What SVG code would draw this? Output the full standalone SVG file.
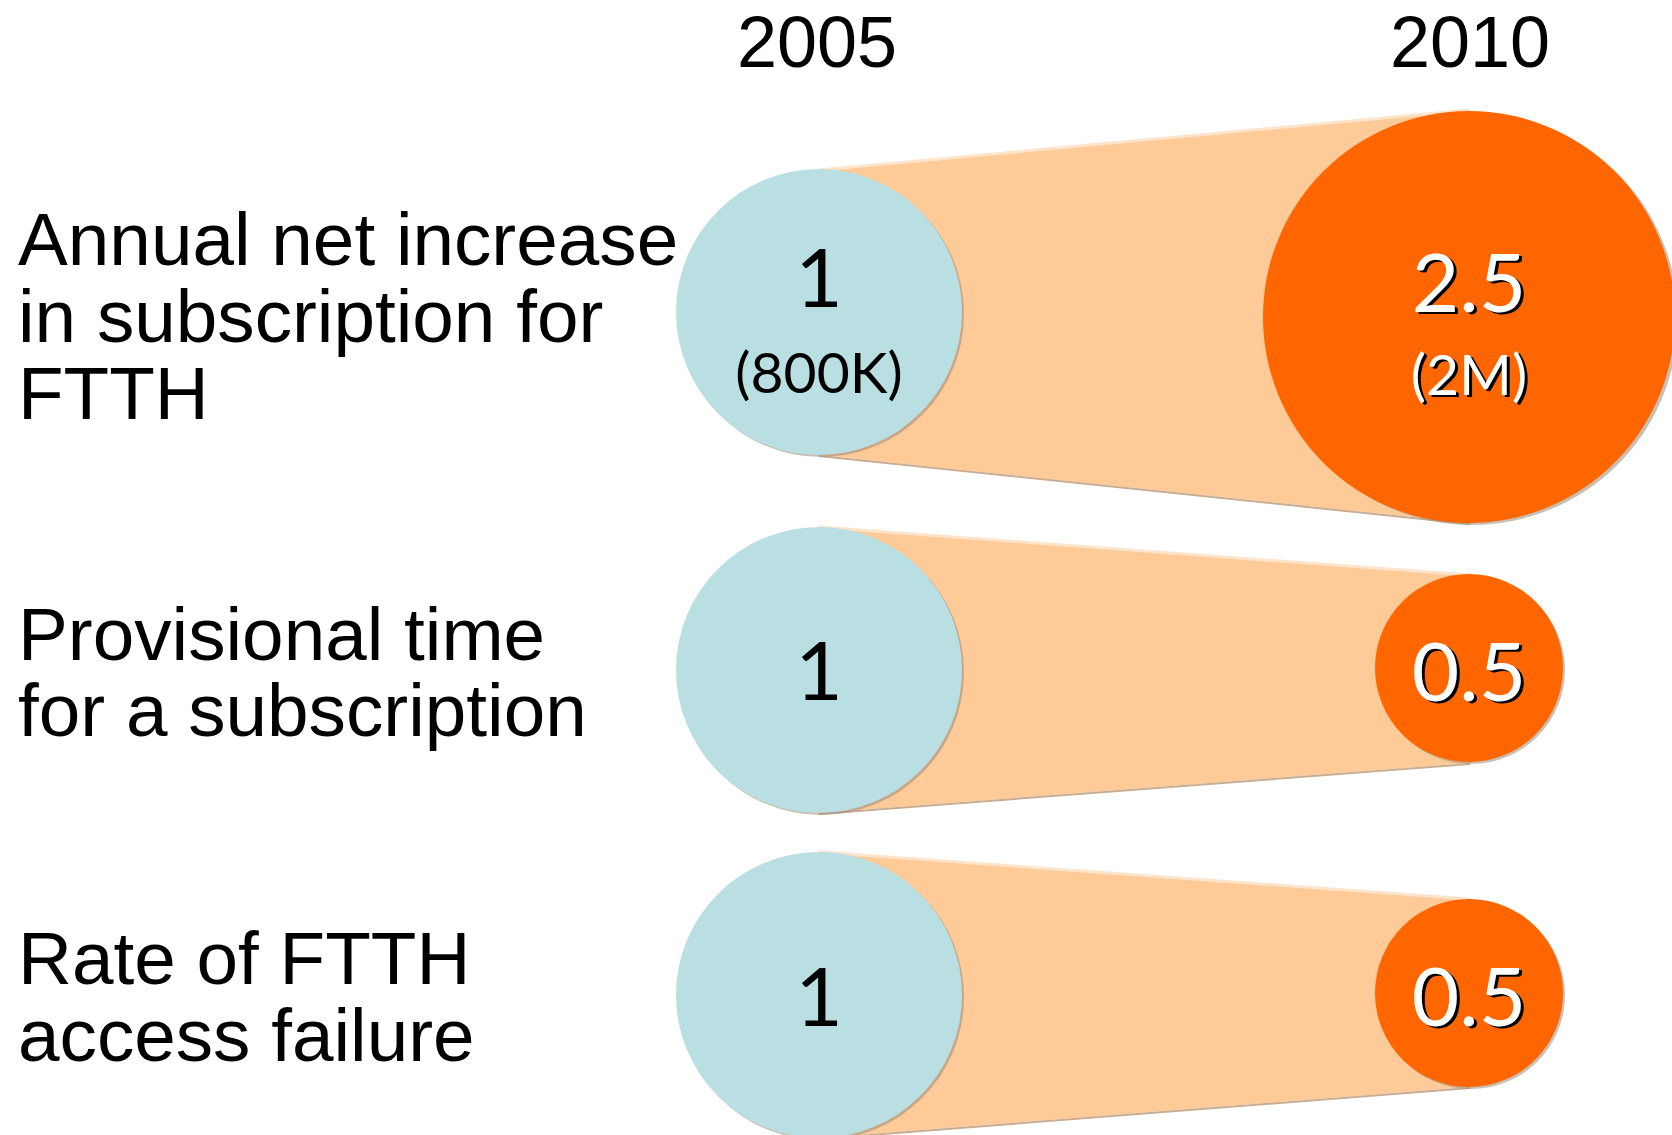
<svg xmlns="http://www.w3.org/2000/svg" width="1672" height="1135" viewBox="0 0 1672 1135">
<style>
.lbl{font-family:"Liberation Sans",Arial,sans-serif;font-size:74.7px;fill:#000}
.yr{font-family:"Liberation Sans",Arial,sans-serif;font-size:72px;fill:#000;text-anchor:middle}
.num{font-family:Lato,"Open Sans",sans-serif;font-size:82px;text-anchor:middle}
.sub{font-family:Lato,"Open Sans",sans-serif;font-size:57px;text-anchor:middle}
.blk{fill:#000}
.wht{fill:#fff}
.shd{fill:#000}
.blue{fill:#B9DFE2}
.orange{fill:#FF6600}
.cshadow{fill:#9c8a78;opacity:0.55}
.cone{fill:#FDCA98}
.top{stroke:#FEE4CB;stroke-width:3;fill:none}
.bot{stroke:#C9AD92;stroke-width:2;fill:none}
</style>
<rect width="1672" height="1135" fill="#fff"/>
<g id="connectors">
  <g id="cone1"><polygon class="cone" points="819,170 1470,110 1470,523 819,455"/><line class="top" x1="819" y1="170" x2="1470" y2="110"/><line class="bot" x1="819" y1="456" x2="1470" y2="524"/></g>
  <g id="cone2"><polygon class="cone" points="819,527 1470,575 1470,763 819,813"/><line class="top" x1="819" y1="527" x2="1470" y2="575"/><line class="bot" x1="819" y1="814" x2="1470" y2="764"/></g>
  <g id="cone3"><polygon class="cone" points="819,852 1470,899 1470,1087 819,1138"/><line class="top" x1="819" y1="852" x2="1470" y2="899"/><line class="bot" x1="819" y1="1139" x2="1470" y2="1088"/></g>
</g>
<g id="year-2005"><text class="yr" x="817" y="67">2005</text></g>
<g id="year-2010"><text class="yr" x="1470" y="67">2010</text></g>
<g id="label-1"><text class="lbl" x="18" y="265">Annual net increase</text><text class="lbl" x="18" y="342">in subscription for</text><text class="lbl" x="18" y="419">FTTH</text></g>
<g id="label-2"><text class="lbl" x="18" y="660">Provisional time</text><text class="lbl" x="18" y="736">for a subscription</text></g>
<g id="label-3"><text class="lbl" x="18" y="984">Rate of FTTH</text><text class="lbl" x="18" y="1061">access failure</text></g>
<g id="node-2005-1"><circle class="cshadow" cx="821" cy="314" r="143"/><circle class="blue" cx="819" cy="312" r="143"/><text class="num blk" x="819" y="307">1</text><text class="sub blk" x="819" y="393">(800K)</text></g>
<g id="node-2005-2"><circle class="cshadow" cx="821" cy="672" r="143"/><circle class="blue" cx="819" cy="670" r="143"/><text class="num blk" x="819" y="700">1</text></g>
<g id="node-2005-3"><circle class="cshadow" cx="821" cy="997" r="143"/><circle class="blue" cx="819" cy="995" r="143"/><text class="num blk" x="819" y="1026">1</text></g>
<g id="node-2010-1"><circle class="cshadow" cx="1472" cy="319" r="206"/><circle class="orange" cx="1469" cy="317" r="206"/><text class="num shd" x="1472" y="314">2.5</text><text class="num wht" x="1469" y="312">2.5</text><text class="sub shd" x="1472" y="397">(2M)</text><text class="sub wht" x="1469" y="395">(2M)</text></g>
<g id="node-2010-2"><circle class="cshadow" cx="1471" cy="670" r="94"/><circle class="orange" cx="1469" cy="668" r="94"/><text class="num shd" x="1472" y="703">0.5</text><text class="num wht" x="1469" y="701">0.5</text></g>
<g id="node-2010-3"><circle class="cshadow" cx="1471" cy="995" r="94"/><circle class="orange" cx="1469" cy="993" r="94"/><text class="num shd" x="1472" y="1028">0.5</text><text class="num wht" x="1469" y="1026">0.5</text></g>
</svg>
